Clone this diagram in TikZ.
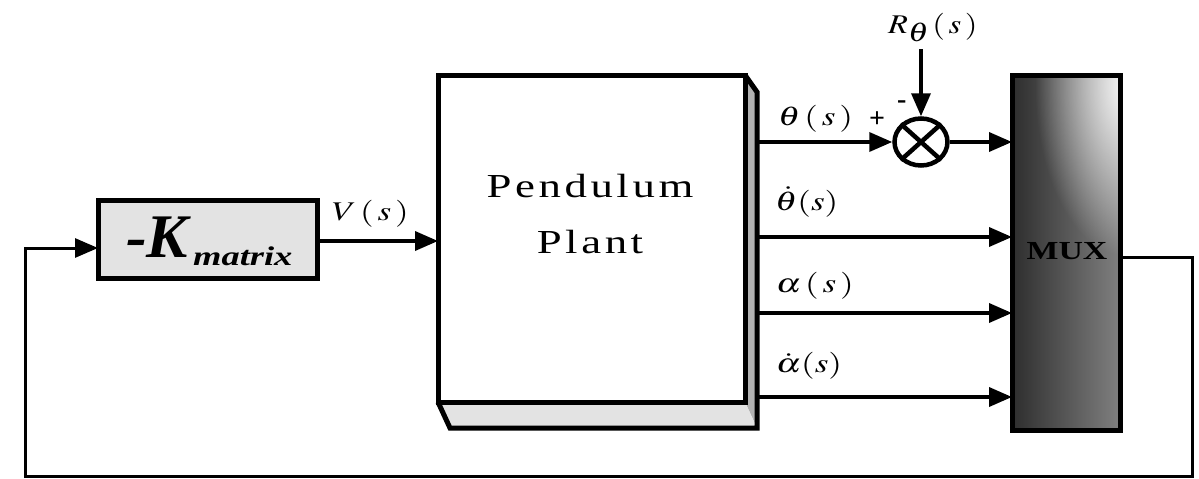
\documentclass[tikz,border=0pt]{standalone}
\usepackage{mathptmx}
\usepackage[no-math]{fontspec}
\setmainfont{Liberation Serif}
\usetikzlibrary{arrows.meta,fadings,shapes.geometric}
\tikzfading[name=muxfade, inner color=transparent!5, outer color=transparent!100]
\tikzset{
  blk/.style={draw, line width=5pt, inner sep=0pt},
  sig/.style={line width=3.6pt, -{Triangle[length=23pt,width=19pt]}},
  wire/.style={line width=3pt},
  lbl/.style={font=\fontsize{25}{30}\selectfont, inner sep=0pt, anchor=base west},
}
\newcommand\wide[1]{\scalebox{1.4}[1.08]{#1}}
\begin{document}
\begin{tikzpicture}[x=1pt,y=-1pt]
\useasboundingbox (0,0) rectangle (1199,479);

% K block
\node[blk, fill=gray!22, minimum width=219pt, minimum height=78pt] (K) at (207.5,239) {};
\node[inner sep=0pt, anchor=base west, font=\fontsize{62}{62}\selectfont\bfseries\itshape] (Ktxt) at (126,257) {-K};
\node[inner sep=0pt, anchor=base west, font=\fontsize{27}{27}\selectfont\bfseries\itshape] (Ksub) at (193,265) {\scalebox{1.35}[1]{matrix}};

% Plant block with extrusion
\fill[gray!60] (745,75) -- (757,92) -- (757,428) -- (745,402) -- cycle;
\fill[gray!22] (438,402) -- (745,402) -- (757,428) -- (450,428) -- cycle;
\draw[line width=5pt, line join=miter] (745,75) -- (757,92) -- (757,428) -- (450,428) -- (438,402);
\node[blk, fill=white, minimum width=307pt, minimum height=327pt] (P) at (591.5,238.5) {};
\node[inner sep=0pt, anchor=base, font=\fontsize{32}{32}\selectfont\addfontfeature{LetterSpace=8}] (Pt1) at (590,197) {\scalebox{1.4}[1.05]{Pendulum}};
\node[inner sep=0pt, anchor=base, font=\fontsize{32}{32}\selectfont\addfontfeature{LetterSpace=8}] (Pt2) at (590,253) {\scalebox{1.4}[1.05]{Plant}};

% Summing junction
\node[ellipse, draw, line width=4.5pt, minimum width=53pt, minimum height=47pt, inner sep=0pt] (S) at (921,142) {};
\draw[line width=4.5pt] (S.north west) -- (S.south east) (S.north east) -- (S.south west);

% MUX
\shade[left color=black!82, right color=black!50] (1012,75) rectangle (1120,430);
\begin{scope}
  \clip (1012,75) rectangle (1120,430);
  \fill[white, path fading=muxfade] (1125,85) ellipse (90pt and 170pt);
\end{scope}
\node[blk, minimum width=108pt, minimum height=355pt] (M) at (1066,252.5) {};
\node[inner sep=0pt, font=\fontsize{26}{26}\selectfont\bfseries] (Mt) at (1067,251) {\scalebox{1.3}[1]{MUX}};

% coordinates
\coordinate (Kin) at (98,248);
\coordinate (Kout) at (317,241);
\coordinate (Pin) at (438,241);
\coordinate (o1) at (757,142);
\coordinate (o2) at (757,237);
\coordinate (o3) at (757,313);
\coordinate (o4) at (757,397);
\coordinate (m2) at (1012,237);
\coordinate (m3) at (1012,313);
\coordinate (m4) at (1012,397);
\coordinate (m1) at (1012,142);
\coordinate (Mout) at (1120,257);
\coordinate (fb1) at (1192,476);
\coordinate (fb2) at (25,476);
\coordinate (rtop) at (921,49);

% connectors
\draw[sig] (Kout) -- (Pin);
\draw[sig] (o1) -- (S.west);
\draw[sig] (S.east) -- (m1);
\draw[sig] (rtop) -- (S.north);
\draw[sig] (o2) -- (m2);
\draw[sig] (o3) -- (m3);
\draw[sig] (o4) -- (m4);
\draw[sig, line width=3pt, line join=miter] (Mout) -| (fb1) -- (fb2) |- (Kin);

% labels
\node[lbl] (Vl) at (332,220) {\wide{$V\,(\,s\,)$}};
\node[lbl] (th) at (778,125) {\wide{$\theta\,(\,s\,)$}};
\node[lbl] (thd) at (775,210) {\wide{$\dot\theta(s)$}};
\node[lbl] (al) at (776,292) {\wide{$\alpha\,(\,s\,)$}};
\node[lbl] (ald) at (776,372) {\wide{$\dot\alpha(s)$}};
\node[lbl] (Rl) at (888,33) {\scalebox{1.3}[1.08]{$R\raisebox{-0.3em}{$\theta$}\,(\,s\,)$}};
\node[lbl, font=\fontsize{28}{28}\selectfont\bfseries] (plus) at (869,127) {+};
\node[lbl, font=\fontsize{28}{28}\selectfont\bfseries] (minus) at (897,108) {-};
\end{tikzpicture}
\end{document}
